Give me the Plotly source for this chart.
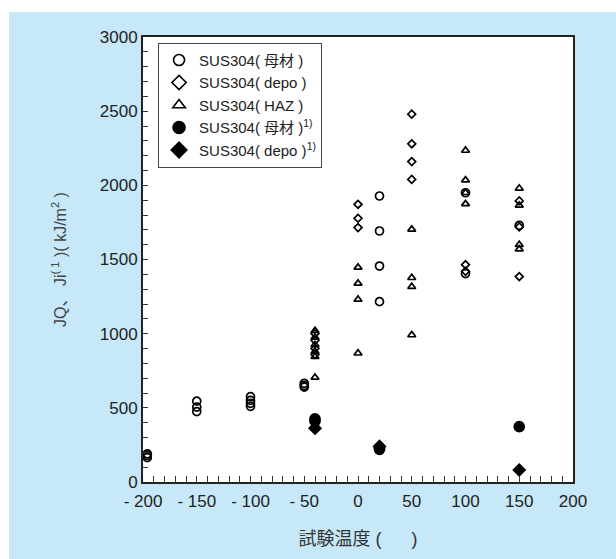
import plotly.graph_objects as go

# ---- data ----
t_base = [-196, -196, -196, -150, -150, -150, -100, -100, -100, -100,
          -50, -50, -50, 20, 20, 20, 20, 100, 100, 150]
j_base = [190, 178, 165, 545, 505, 475, 575, 550, 530, 510,
          665, 650, 640, 1928, 1692, 1456, 1216, 1950, 1405, 1730]

t_depo = [-40, -40, -40, -40, 0, 0, 0, 50, 50, 50, 50, 100, 100,
          150, 150, 150]
j_depo = [1000, 955, 900, 860, 1872, 1778, 1715, 2480, 2280, 2160, 2040,
          1465, 1420, 1895, 1720, 1385]

t_haz = [-40, -40, -40, -40, -40, -40, 0, 0, 0, 0, 50, 50, 50, 50,
         100, 100, 100, 100, 150, 150, 150, 150]
j_haz = [1020, 975, 925, 880, 845, 705, 1447, 1339, 1231, 868,
         1703, 1377, 1317, 991, 2235, 2035, 1950, 1875, 1980, 1865, 1600, 1570]

t_base_ref = [-40, -40, 20, 20, 150]
j_base_ref = [425, 410, 230, 220, 373]

t_depo_ref = [-40, 20, 150]
j_depo_ref = [362, 240, 81]

legend_names = ["SUS304( 母材 )", "SUS304( depo )", "SUS304( HAZ )",
                "SUS304( 母材 )<sup>1)</sup>", "SUS304( depo )<sup>1)</sup>"]

x_tickvals = [-200, -150, -100, -50, 0, 50, 100, 150, 200]
x_ticktext = ["- 200", "- 150", "- 100", "- 50", "0", "50", "100", "150", "200"]
y_tickvals = [0, 500, 1000, 1500, 2000, 2500, 3000]

FONT = "Liberation Sans, Arial, Noto Sans CJK JP, sans-serif"
BLUE = "#C6E8F8"

fig = go.Figure()

series = [
    (t_base, j_base, "circle-open", 8, legend_names[0], 11),
    (t_depo, j_depo, "diamond-open", 6, legend_names[1], 11),
    (t_haz, j_haz, "triangle-up-open", 7, legend_names[2], 11),
    (t_base_ref, j_base_ref, "circle", 10, legend_names[3], 12),
    (t_depo_ref, j_depo_ref, "diamond", 9, legend_names[4], 12),
]

for xs, ys, sym, size, name, lsize in series:
    fig.add_trace(go.Scatter(
        x=xs, y=ys, mode="markers", showlegend=False,
        marker=dict(symbol=sym, size=size, color="black",
                    line=dict(color="black", width=1.7)),
    ))

for xs, ys, sym, size, name, lsize in series:
    fig.add_trace(go.Scatter(
        x=[None], y=[None], mode="markers", name=name, showlegend=True,
        marker=dict(symbol=sym, size=lsize, color="black",
                    line=dict(color="black", width=1.6)),
    ))

fig.update_layout(
    width=616, height=559,
    margin=dict(l=143, r=43, t=37, b=77),
    paper_bgcolor=BLUE,
    plot_bgcolor="white",
    font=dict(family=FONT, color="#222", size=17),
    legend=dict(
        x=0.035, y=0.987, xanchor="left", yanchor="top",
        bgcolor="white", bordercolor="#444", borderwidth=1,
        font=dict(family=FONT, size=15, color="#222"),
        itemwidth=30,
        tracegroupgap=0,
    ),
    shapes=[
        dict(type="rect", xref="paper", yref="paper",
             x0=-0.5, x1=1.2, y0=1.056, y1=1.2,
             fillcolor="white", line=dict(width=0), layer="above"),
        dict(type="rect", xref="paper", yref="paper",
             x0=-0.5, x1=-0.3116, y0=-0.3, y1=1.2,
             fillcolor="white", line=dict(width=0), layer="above"),
    ],
)

fig.update_xaxes(
    range=[-200, 200],
    tickmode="array", tickvals=x_tickvals, ticktext=x_ticktext,
    ticks="inside", ticklen=6, tickwidth=1, tickcolor="#333",
    minor=dict(dtick=10, ticks="inside", ticklen=6, tickwidth=1, tickcolor="#333"),
    showline=True, mirror=True, linecolor="#222", linewidth=2,
    showgrid=False, zeroline=False,
    ticklabelstandoff=3,
    tickfont=dict(size=17, color="#222"),
    title=dict(text="試験温度 (      )", font=dict(size=18, color="#333"), standoff=22),
)

fig.update_yaxes(
    range=[0, 3000],
    tickmode="array", tickvals=y_tickvals,
    ticks="inside", ticklen=5, tickwidth=1, tickcolor="#333",
    minor=dict(dtick=100, ticks="inside", ticklen=5, tickwidth=1, tickcolor="#333"),
    showline=True, mirror=True, linecolor="#222", linewidth=2,
    showgrid=False, zeroline=False,
    tickfont=dict(size=17, color="#222"),
    title=dict(text="JQ、 Ji<sup>( 1</sup> )( kJ/m<sup>2</sup> )",
               font=dict(size=16, color="#444"), standoff=29),
)

fig.write_html("out.html")
